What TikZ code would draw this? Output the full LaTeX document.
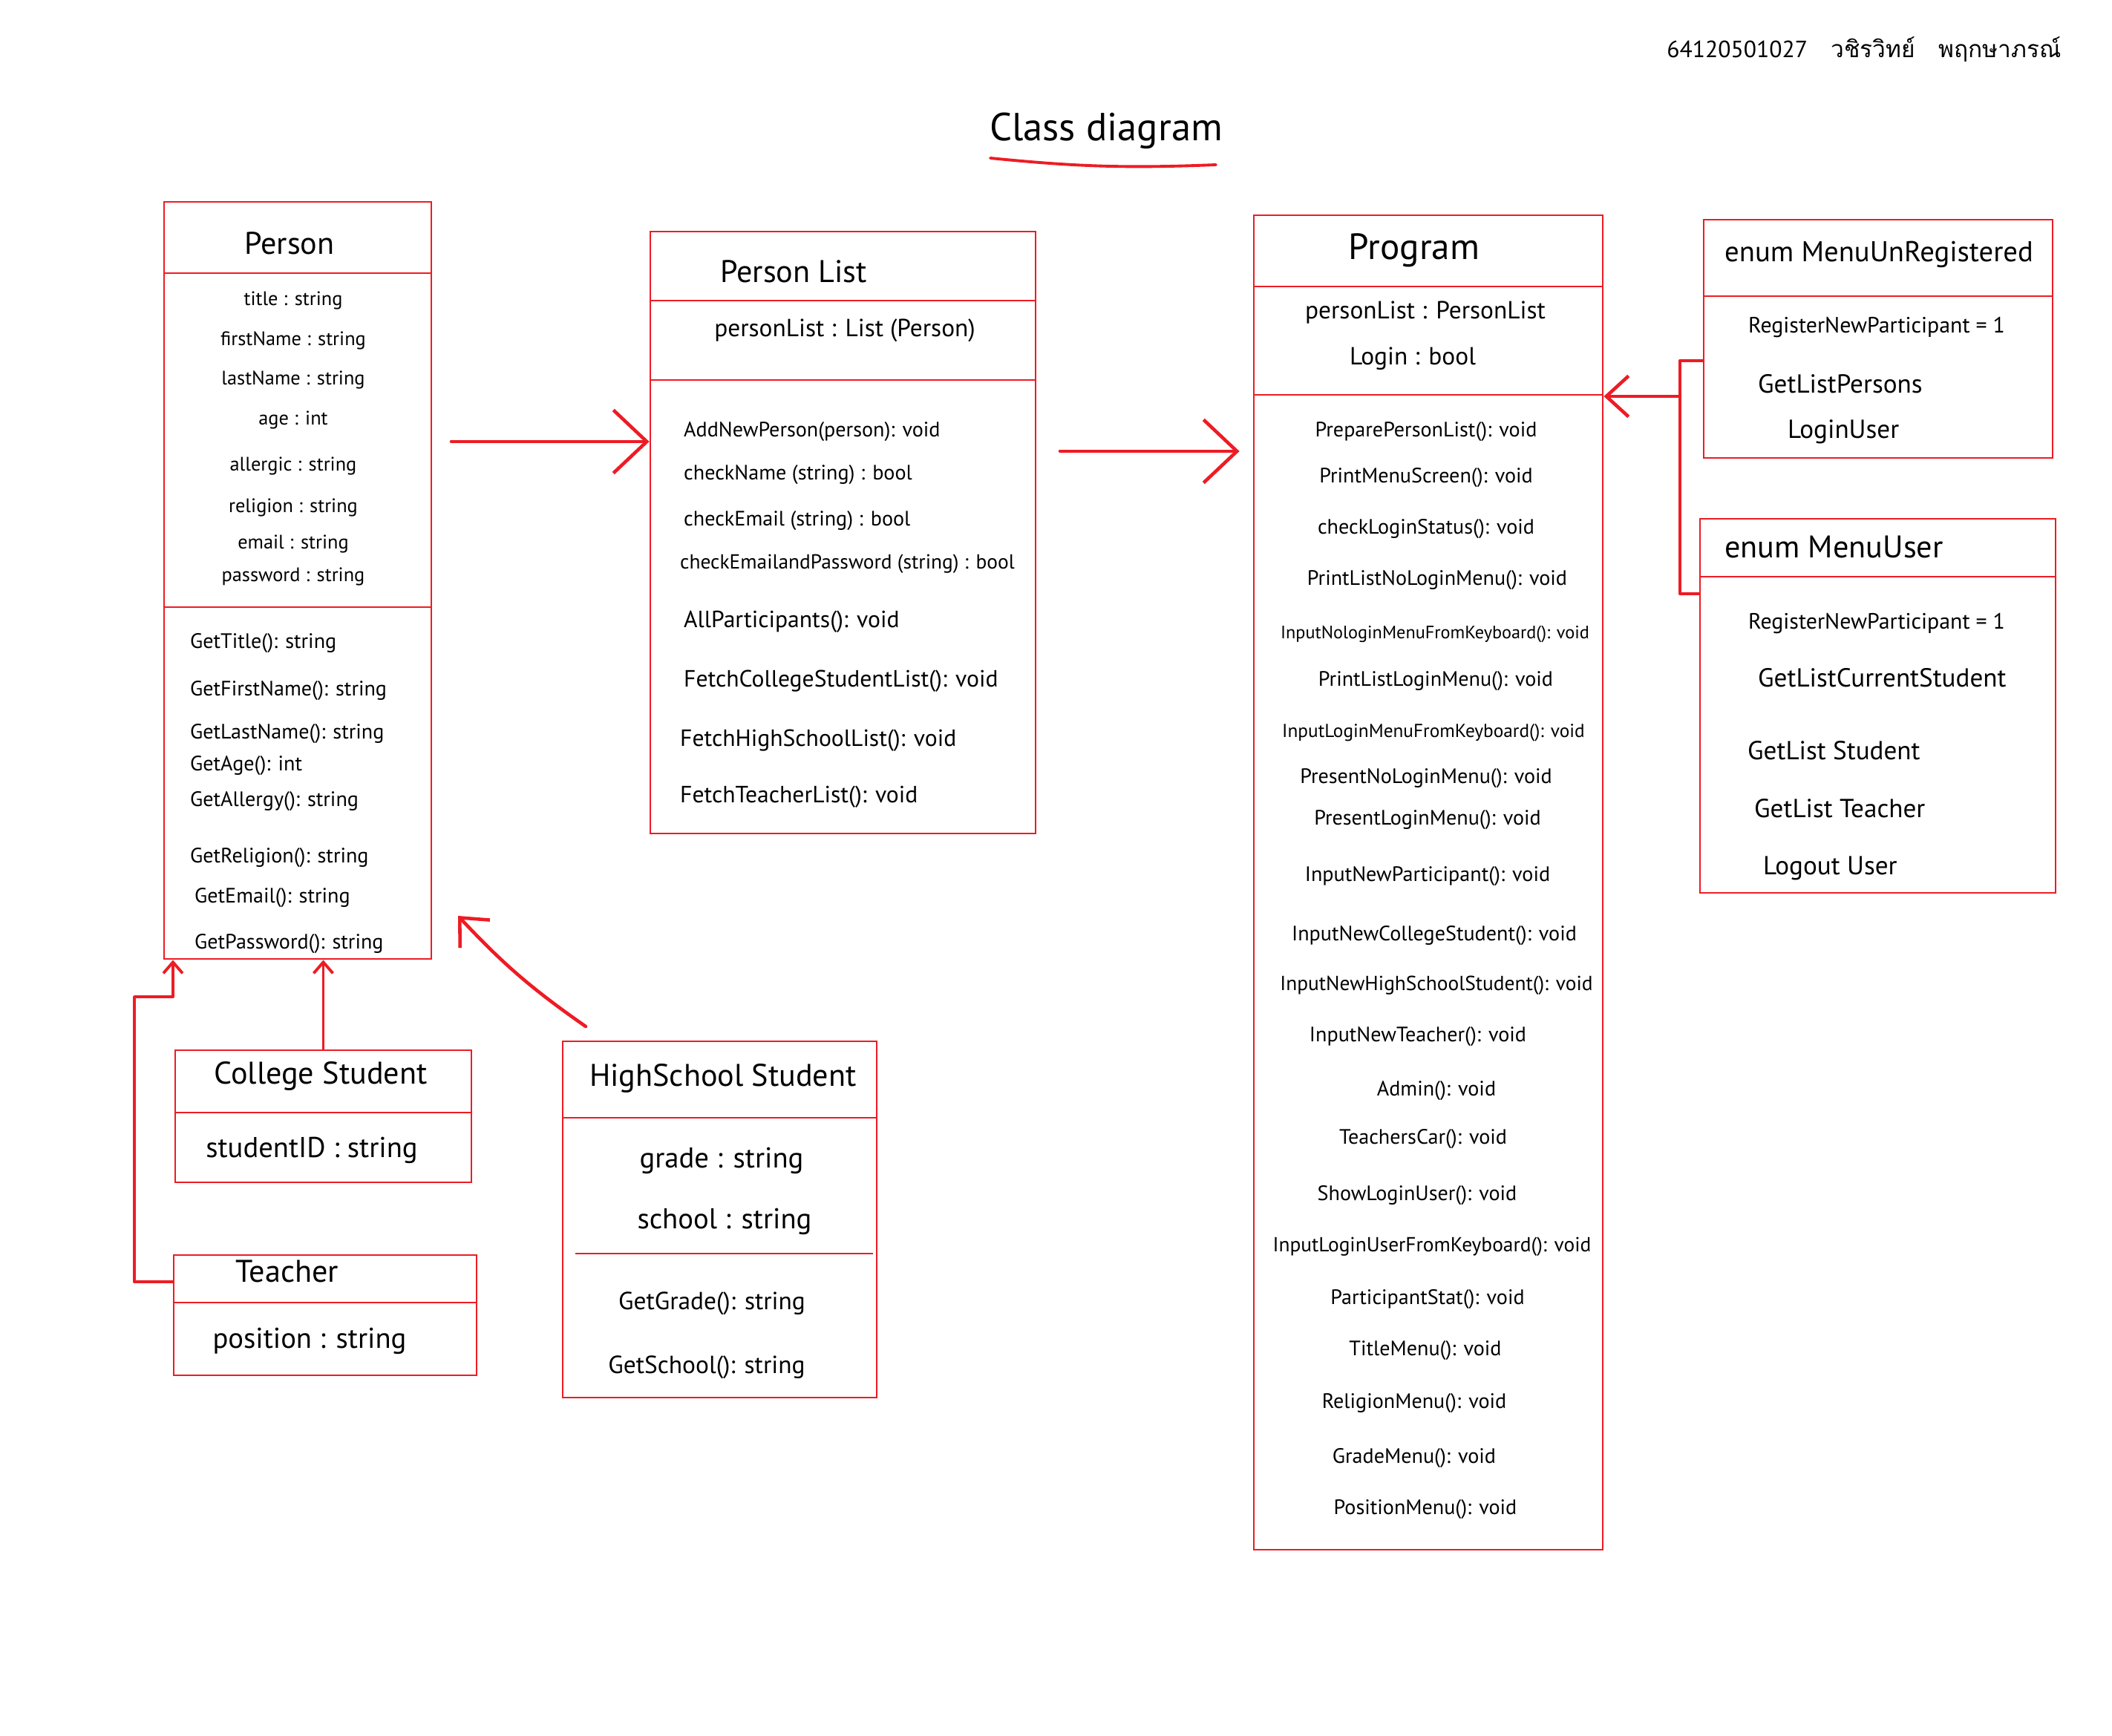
\documentclass[tikz,border=0pt]{standalone}
\usepackage{fontspec}
\setmainfont{PT Sans}
\newfontfamily\thaifont[Script=Thai]{Loma}
\usetikzlibrary{arrows.meta}
\definecolor{penred}{RGB}{237,28,36}

\begin{document}
\begin{tikzpicture}[
    clsbox/.style={draw=penred, line width=0.8pt, rectangle, inner sep=0pt},
    clsline/.style={draw=penred, line width=0.8pt},
    clstitle/.style={font=\fontsize{12}{14}\selectfont, inner sep=1pt},
    clsattr/.style={font=\fontsize{9.5}{11}\selectfont, inner sep=1pt},
    clsmeth/.style={font=\fontsize{8}{10}\selectfont, inner sep=1pt},
    penline/.style={draw=penred, line width=1.3pt, line cap=round, line join=round},
    inherit/.style={penline, line width=1.1pt, -{Straight Barb[length=1.5mm, width=2.6mm]}},
    assoc/.style={penline, -{Straight Barb[length=4.5mm, width=8.5mm]}},
    useto/.style={penline, -{Straight Barb[length=3mm, width=5.5mm]}}
  ]
  % page
  \path[fill=white, use as bounding box] (0, 0) rectangle (28.45, -23.39);

  % heading
  \node[font=\fontsize{15}{18}\selectfont] at (14.90, -1.76) (head) {Class diagram};
  \draw[penline, line width=1.1pt] (13.34, -2.13) to[bend right=4] (16.38, -2.22);
  \node[font=\fontsize{9}{11}\selectfont] at (25.11, -0.67) (stdid)
    {64120501027\quad{\thaifont วชิรวิทย์\quad พฤกษาภรณ์}};

  % Person
  \node[clsbox, minimum width=3.60cm, minimum height=10.20cm] at (4.01, -7.82) (person) {};
  \draw[clsline] (person.west |- 0, -3.68) -- (person.east |- 0, -3.68);
  \draw[clsline] (person.west |- 0, -8.18) -- (person.east |- 0, -8.18);
  \node[clstitle] at (3.90, -3.28) (personT) {Person};
  \node[clsattr, font=\fontsize{7.5}{9}\selectfont] at (3.95, -4.05) (pa1) {title : string};
  \node[clsattr, font=\fontsize{7.5}{9}\selectfont] at (3.95, -4.59) (pa2) {firstName : string};
  \node[clsattr, font=\fontsize{7.5}{9}\selectfont] at (3.95, -5.12) (pa3) {lastName : string};
  \node[clsattr, font=\fontsize{7.5}{9}\selectfont] at (3.95, -5.66) (pa4) {age : int};
  \node[clsattr, font=\fontsize{7.5}{9}\selectfont] at (3.95, -6.28) (pa5) {allergic : string};
  \node[clsattr, font=\fontsize{7.5}{9}\selectfont] at (3.95, -6.84) (pa6) {religion : string};
  \node[clsattr, font=\fontsize{7.5}{9}\selectfont] at (3.95, -7.33) (pa7) {email : string};
  \node[clsattr, font=\fontsize{7.5}{9}\selectfont] at (3.95, -7.77) (pa8) {password : string};
  \node[clsmeth, anchor=west] at (2.52, -8.67) (pm1) {GetTitle(): string};
  \node[clsmeth, anchor=west] at (2.52, -9.31) (pm2) {GetFirstName(): string};
  \node[clsmeth, anchor=west] at (2.52, -9.89) (pm3) {GetLastName(): string};
  \node[clsmeth, anchor=west] at (2.52, -10.32) (pm4) {GetAge(): int};
  \node[clsmeth, anchor=west] at (2.52, -10.80) (pm5) {GetAllergy(): string};
  \node[clsmeth, anchor=west] at (2.52, -11.56) (pm6) {GetReligion(): string};
  \node[clsmeth, anchor=west] at (2.58, -12.10) (pm7) {GetEmail(): string};
  \node[clsmeth, anchor=west] at (2.58, -12.72) (pm8) {GetPassword(): string};

  % PersonList
  \node[clsbox, minimum width=5.19cm, minimum height=8.11cm] at (11.355, -7.175) (plist) {};
  \draw[clsline] (plist.west |- 0, -4.05) -- (plist.east |- 0, -4.05);
  \draw[clsline] (plist.west |- 0, -5.12) -- (plist.east |- 0, -5.12);
  \node[clstitle] at (10.69, -3.66) (plistT) {Person List};
  \node[clsattr] at (11.38, -4.45) (la1) {personList : List (Person)};
  \node[clsmeth, anchor=west] at (9.17, -5.82) (lm1) {AddNewPerson(person): void};
  \node[clsmeth, anchor=west] at (9.17, -6.40) (lm2) {checkName (string) : bool};
  \node[clsmeth, anchor=west] at (9.17, -7.02) (lm3) {checkEmail (string) : bool};
  \node[clsmeth, font=\fontsize{7.8}{10}\selectfont, anchor=west] at (9.12, -7.60) (lm4) {checkEmailandPassword (string) : bool};
  \node[clsmeth, font=\fontsize{9}{11}\selectfont, anchor=west] at (9.17, -8.38) (lm5) {AllParticipants(): void};
  \node[clsmeth, font=\fontsize{9}{11}\selectfont, anchor=west] at (9.17, -9.18) (lm6) {FetchCollegeStudentList(): void};
  \node[clsmeth, font=\fontsize{9}{11}\selectfont, anchor=west] at (9.12, -9.98) (lm7) {FetchHighSchoolList(): void};
  \node[clsmeth, font=\fontsize{9}{11}\selectfont, anchor=west] at (9.12, -10.74) (lm8) {FetchTeacherList(): void};

  % Program
  \node[clsbox, minimum width=4.70cm, minimum height=17.98cm] at (19.24, -11.89) (prog) {};
  \draw[clsline] (prog.west |- 0, -3.86) -- (prog.east |- 0, -3.86);
  \draw[clsline] (prog.west |- 0, -5.32) -- (prog.east |- 0, -5.32);
  \node[clstitle, font=\fontsize{14}{17}\selectfont] at (19.05, -3.37) (progT) {Program};
  \node[clsattr] at (19.20, -4.21) (ga1) {personList : PersonList};
  \node[clsattr] at (19.03, -4.83) (ga2) {Login : bool};
  \node[clsmeth] at (19.21, -5.82) (gm1) {PreparePersonList(): void};
  \node[clsmeth] at (19.21, -6.44) (gm2) {PrintMenuScreen(): void};
  \node[clsmeth] at (19.21, -7.13) (gm3) {checkLoginStatus(): void};
  \node[clsmeth] at (19.36, -7.82) (gm4) {PrintListNoLoginMenu(): void};
  \node[clsmeth, font=\fontsize{6.9}{9}\selectfont] at (19.33, -8.55) (gm5) {InputNologinMenuFromKeyboard(): void};
  \node[clsmeth] at (19.34, -9.18) (gm6) {PrintListLoginMenu(): void};
  \node[clsmeth, font=\fontsize{7.2}{9}\selectfont] at (19.31, -9.87) (gm7) {InputLoginMenuFromKeyboard(): void};
  \node[clsmeth] at (19.21, -10.49) (gm8) {PresentNoLoginMenu(): void};
  \node[clsmeth] at (19.23, -11.05) (gm9) {PresentLoginMenu(): void};
  \node[clsmeth] at (19.23, -11.81) (gm10) {InputNewParticipant(): void};
  \node[clsmeth] at (19.32, -12.61) (gm11) {InputNewCollegeStudent(): void};
  \node[clsmeth, font=\fontsize{7.8}{10}\selectfont] at (19.35, -13.28) (gm12) {InputNewHighSchoolStudent(): void};
  \node[clsmeth] at (19.10, -13.97) (gm13) {InputNewTeacher(): void};
  \node[clsmeth] at (19.35, -14.70) (gm14) {Admin(): void};
  \node[clsmeth] at (19.17, -15.35) (gm15) {TeachersCar(): void};
  \node[clsmeth] at (19.09, -16.11) (gm16) {ShowLoginUser(): void};
  \node[clsmeth, font=\fontsize{7.8}{10}\selectfont] at (19.29, -16.80) (gm17) {InputLoginUserFromKeyboard(): void};
  \node[clsmeth] at (19.23, -17.51) (gm18) {ParticipantStat(): void};
  \node[clsmeth] at (19.20, -18.20) (gm19) {TitleMenu(): void};
  \node[clsmeth] at (19.05, -18.91) (gm20) {ReligionMenu(): void};
  \node[clsmeth] at (19.05, -19.65) (gm21) {GradeMenu(): void};
  \node[clsmeth] at (19.20, -20.34) (gm22) {PositionMenu(): void};

  % enums
  \node[clsbox, minimum width=4.70cm, minimum height=3.21cm] at (25.30, -4.565) (menuunreg) {};
  \draw[clsline] (menuunreg.west |- 0, -3.99) -- (menuunreg.east |- 0, -3.99);
  \node[clstitle, font=\fontsize{11}{13}\selectfont, anchor=west] at (23.19, -3.43) (unregT) {enum MenuUnRegistered};
  \node[clsattr, font=\fontsize{8.5}{10}\selectfont, anchor=west] at (23.51, -4.41) (ue1) {RegisterNewParticipant = 1};
  \node[clsattr, font=\fontsize{10}{12}\selectfont, anchor=west] at (23.64, -5.17) (ue2) {GetListPersons};
  \node[clsattr, font=\fontsize{10}{12}\selectfont, anchor=west] at (24.04, -5.82) (ue3) {LoginUser};

  \node[clsbox, minimum width=4.79cm, minimum height=5.04cm] at (25.295, -9.51) (menuuser) {};
  \draw[clsline] (menuuser.west |- 0, -7.77) -- (menuuser.east |- 0, -7.77);
  \node[clstitle, anchor=west] at (23.19, -7.37) (userT) {enum MenuUser};
  \node[clsattr, font=\fontsize{8.5}{10}\selectfont, anchor=west] at (23.51, -8.40) (se1) {RegisterNewParticipant = 1};
  \node[clsattr, font=\fontsize{10}{12}\selectfont, anchor=west] at (23.64, -9.13) (se2) {GetListCurrentStudent};
  \node[clsattr, font=\fontsize{10}{12}\selectfont, anchor=west] at (23.50, -10.11) (se3) {GetList Student};
  \node[clsattr, font=\fontsize{10}{12}\selectfont, anchor=west] at (23.59, -10.89) (se4) {GetList Teacher};
  \node[clsattr, font=\fontsize{10}{12}\selectfont, anchor=west] at (23.71, -11.70) (se5) {Logout User};

  % subclasses
  \node[clsbox, minimum width=3.99cm, minimum height=1.78cm] at (4.355, -15.04) (college) {};
  \draw[clsline] (college.west |- 0, -14.99) -- (college.east |- 0, -14.99);
  \node[clstitle] at (4.32, -14.50) (collegeT) {College Student};
  \node[clsattr, font=\fontsize{11}{13}\selectfont] at (4.20, -15.50) (ca1) {studentID : string};

  \node[clsbox, minimum width=4.08cm, minimum height=1.62cm] at (4.38, -17.72) (teacher) {};
  \draw[clsline] (teacher.west |- 0, -17.55) -- (teacher.east |- 0, -17.55);
  \node[clstitle] at (3.87, -17.13) (teacherT) {Teacher};
  \node[clsattr, font=\fontsize{11}{13}\selectfont] at (4.17, -18.07) (ta1) {position : string};

  \node[clsbox, minimum width=4.23cm, minimum height=4.80cm] at (9.695, -16.43) (hss) {};
  \draw[clsline] (hss.west |- 0, -15.06) -- (hss.east |- 0, -15.06);
  \draw[clsline] (7.75, -16.89) -- (11.76, -16.89);
  \node[clstitle] at (9.74, -14.53) (hssT) {HighSchool Student};
  \node[clsattr, font=\fontsize{11}{13}\selectfont] at (9.72, -15.64) (ha1) {grade : string};
  \node[clsattr, font=\fontsize{11}{13}\selectfont] at (9.76, -16.46) (ha2) {school : string};
  \node[clsattr] at (9.59, -17.56) (hm1) {GetGrade(): string};
  \node[clsattr] at (9.52, -18.42) (hm2) {GetSchool(): string};

  % edges
  \coordinate (a1) at (6.08, -5.95);
  \draw[assoc] (a1) -- (a1 -| plist.west);
  \coordinate (a2) at (14.28, -6.08);
  \draw[assoc] (a2) -- ([xshift=-1.8mm]a2 -| prog.west);

  \coordinate (b1) at (22.63, -4.86);
  \coordinate (b2) at (22.63, -8.00);
  \coordinate (b3) at (22.63, -5.34);
  \draw[penline] (b1 -| menuunreg.west) -- (b1) -- (b2) -- (b2 -| menuuser.west);
  \draw[useto] (b3) -- (b3 -| prog.east);

  \draw[inherit] (college.north) -- (college.north |- person.south);
  \coordinate (t1) at (1.81, -17.27);
  \coordinate (t2) at (1.81, -13.43);
  \coordinate (t3) at (2.33, -13.43);
  \draw[inherit] (t1 -| teacher.west) -- (t1) -- (t2) -- (t3) -- (t3 |- person.south);

  \coordinate (h1) at (7.89, -13.83);
  \coordinate (h2) at (6.17, -12.34);
  \draw[useto] (h1) to[bend left=6] (h2);
\end{tikzpicture}
\end{document}
